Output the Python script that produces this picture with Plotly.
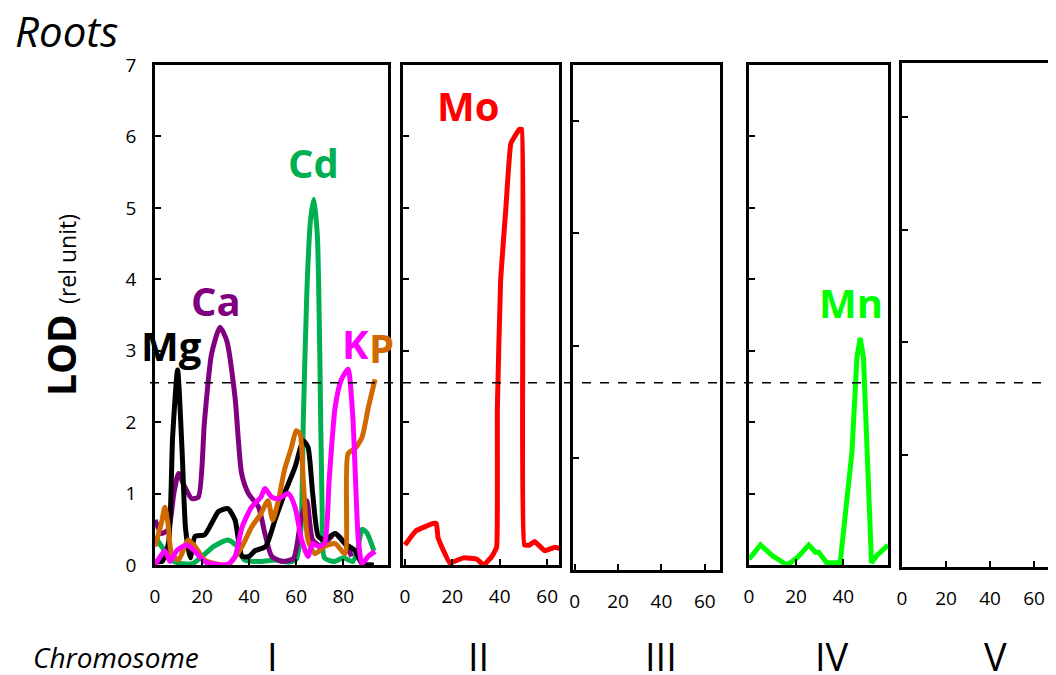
import plotly.graph_objects as go

# ---------------- data ----------------
# Chromosome I (cM, LOD)
mg_x = [0, 3, 5.7, 7.5, 9.6, 11.5, 13, 15, 17, 21, 24, 27, 31, 34, 37, 40, 42.5, 47, 51, 55, 59.5, 63, 65, 67, 69.4, 72, 76.5, 80.7, 85, 88, 93]
mg_y = [0.05, 0.05, 0.3, 1.8, 2.73, 1.6, 0.5, 0.1, 0.4, 0.42, 0.58, 0.75, 0.79, 0.63, 0.12, 0.12, 0.2, 0.26, 0.63, 1.0, 1.37, 1.74, 1.65, 1.0, 0.4, 0.35, 0.44, 0.3, 0.2, 0.02, 0.0]

ca_x = [0, 2.8, 5.7, 8, 10, 12.7, 15.6, 18.4, 21, 24, 27.6, 30.5, 34, 36.8, 39.7, 44, 46.7, 49.6, 54, 58.8, 62, 64.5, 67, 70.8, 76.5, 80.7, 83.6]
ca_y = [0.63, 0.44, 0.5, 1.0, 1.28, 1.09, 0.93, 0.95, 2.0, 2.95, 3.33, 3.14, 2.35, 1.28, 1.0, 0.81, 0.44, 0.12, 0.05, 0.09, 0.63, 0.9, 0.35, 0.26, 0.44, 0.3, 0.12]

cd_x = [0, 3, 7, 11, 16, 20, 25, 31, 35, 38, 45, 51, 57, 60, 62, 63, 64.5, 66, 67.5, 69, 70, 71, 72, 76, 80, 84, 86, 88, 90, 93]
cd_y = [0.4, 0.25, 0.07, 0.02, 0.02, 0.12, 0.26, 0.35, 0.26, 0.07, 0.05, 0.07, 0.04, 0.08, 0.5, 2.0, 3.8, 4.8, 5.12, 4.6, 3.0, 0.8, 0.1, 0.05, 0.1, 0.05, 0.2, 0.5, 0.45, 0.2]

k_x = [0, 4.2, 6.4, 9.2, 13.5, 17, 21, 25.5, 31, 34, 37, 41, 45, 46.7, 49.6, 52.4, 56.7, 59.5, 62.3, 65, 67, 69.4, 72, 74, 76.5, 79, 82, 84, 86.4, 88, 90.6, 93.5]
k_y = [0.0, 0.2, 0.05, 0.2, 0.28, 0.19, 0.05, 0.01, 0.01, 0.12, 0.53, 0.81, 0.95, 1.07, 0.95, 0.93, 1.0, 0.81, 0.35, 0.12, 0.3, 0.26, 0.3, 1.19, 2.2, 2.58, 2.74, 2.1, 0.35, 0.02, 0.12, 0.19]

p_x = [0, 2.8, 4.2, 5.7, 7, 10, 14, 17, 21, 25.5, 31, 37, 41, 45, 48, 50, 52.4, 55, 58, 60, 61.6, 63, 65, 68, 72, 76.5, 80.7, 82, 85, 88, 90.6, 93.5]
p_y = [0.26, 0.6, 0.81, 0.53, 0.16, 0.07, 0.35, 0.26, 0.07, 0.02, 0.0, 0.26, 0.53, 0.72, 0.9, 0.63, 0.9, 1.33, 1.65, 1.88, 1.84, 1.19, 0.35, 0.16, 0.26, 0.3, 0.16, 1.56, 1.63, 1.79, 2.2, 2.6]

# Chromosome II
mo_x = [0, 4.7, 11.9, 13.3, 14, 19, 24.7, 30.4, 33.3, 36.9, 38.7, 39, 40.4, 42.6, 44.7, 48.3, 49.3, 49.7, 50.4, 52.6, 54.7, 59, 63.3, 66]
mo_y = [0.28, 0.48, 0.58, 0.58, 0.38, 0.03, 0.1, 0.08, 0.0, 0.13, 0.25, 2.2, 4.0, 5.0, 5.9, 6.1, 6.1, 3.2, 0.28, 0.28, 0.33, 0.2, 0.25, 0.22]

# Chromosome IV
mn_x = [0, 4.9, 9.9, 16.2, 20.4, 25.4, 28.2, 29.6, 33, 38.7, 43.7, 45.8, 47.2, 48.6, 52, 54.2, 59]
mn_y = [0.08, 0.28, 0.13, 0.0, 0.1, 0.28, 0.18, 0.18, 0.03, 0.03, 1.58, 2.9, 3.18, 2.9, 0.03, 0.13, 0.28]

threshold = 2.55
chromosomes = ["I", "II", "III", "IV", "V"]
lod_ticks = [0, 1, 2, 3, 4, 5, 6, 7]

# ---------------- figure ----------------
W, H = 1056, 675
OFF = 8  # page body margin: figure is drawn 8px right/down in the window

def px(x):
    return (x - OFF) / W

def py(y):
    return 1 - (y - OFF) / H

FONT = "Open Sans"
fig = go.Figure()

def line(x, y, color, xa, ya, shape="spline", smoothing=0.6):
    fig.add_trace(go.Scatter(
        x=x, y=y, mode="lines", xaxis=xa, yaxis=ya,
        line=dict(color=color, width=5, shape=shape, smoothing=smoothing),
        showlegend=False, hoverinfo="skip"))

line(cd_x, cd_y, "#00B050", "x", "y")
line(ca_x, ca_y, "#800080", "x", "y")
line(mg_x, mg_y, "#000000", "x", "y")
line(p_x, p_y, "#D06A00", "x", "y")
line(k_x, k_y, "#FF00FF", "x", "y")
line(mo_x, mo_y, "#FF0000", "x2", "y2", smoothing=0.3)
line(mn_x, mn_y, "#00FF00", "x4", "y4", shape="linear")
# empty panels III and V (no QTL traces)
for xa, ya in (("x3", "y3"), ("x5", "y5")):
    fig.add_trace(go.Scatter(x=[None], y=[None], mode="lines", xaxis=xa, yaxis=ya,
                             showlegend=False, hoverinfo="skip"))

# panel geometry (window pixels): left, right, top, bottom
panels = [
    (155, 388, 65, 565, [0, 99], [0, 7]),
    (403, 559, 65, 565, [-0.8, 65], [0, 7]),
    (573, 720, 65, 570, [-0.8, 67], [0, 4.5]),
    (749, 888, 65, 565, [0, 59], [0, 7]),
    (902, 1064, 63, 567, [0, 73.6], [0, 4.48]),
]
xticks = [[0, 20, 40, 60, 80], [0, 20, 40, 60], [0, 20, 40, 60], [0, 20, 40], [0, 20, 40, 60]]

axcommon = dict(showline=True, linecolor="black", linewidth=2.5,
                ticks="inside", ticklen=6, tickwidth=2, tickcolor="black",
                showgrid=False, zeroline=False, fixedrange=True, automargin=False,
                mirror=True)

layout = {}
for i, (l, r, t, b, xr, yr) in enumerate(panels):
    n = "" if i == 0 else str(i + 1)
    layout["xaxis" + n] = dict(
        axcommon, domain=[max(0, px(l)), min(1, px(r))], range=xr, anchor="y" + n,
        tickvals=xticks[i], ticktext=[str(v) for v in xticks[i]],
        tickfont=dict(family=FONT, size=19, color="black"),
        ticklabelstandoff=12)
    layout["yaxis" + n] = dict(
        axcommon, domain=[py(b), py(t)], range=yr, anchor="x" + n,
        tickvals=lod_ticks if yr[1] == 7 else [0, 1, 2, 3, 4],
        showticklabels=(i == 0),
        tickfont=dict(family=FONT, size=19, color="black"),
        ticklabelstandoff=12)

fig.update_layout(**layout)

shapes = [
    # threshold dashed line across all panels
    dict(type="line", xref="paper", yref="y",
         x0=px(150), x1=1, y0=threshold, y1=threshold,
         line=dict(color="black", width=1.5, dash="dash")),
]
fig.update_layout(shapes=shapes)

ann = []
def lab(text, x, y, color, xref, yref, size=40):
    ann.append(dict(text="<b>" + text + "</b>", x=x, y=y, xref=xref, yref=yref,
                    showarrow=False, font=dict(family=FONT, size=size, color=color),
                    xanchor="center", yanchor="middle"))

lab("Mg", 7.0, 3.08, "#000000", "x", "y")
lab("Ca", 25.9, 3.71, "#800080", "x", "y")
lab("Cd", 67.5, 5.64, "#00B050", "x", "y")
lab("K", 85.4, 3.1, "#FF00FF", "x", "y")
lab("P", 96.3, 3.04, "#D06A00", "x", "y")
lab("Mo", 26.6, 6.44, "#FF0000", "x2", "y2")
lab("Mn", 43.4, 3.68, "#00FF00", "x4", "y4")

# title
ann.append(dict(text="<i>Roots</i>", x=px(13), y=py(30), xref="paper", yref="paper",
                xanchor="left", yanchor="middle", showarrow=False,
                font=dict(family=FONT, size=42, color="black")))
# y-axis title
ann.append(dict(text="<b>LOD</b> <span style='font-size:23px'>(rel unit)</span>",
                x=px(61), y=py(305), xref="paper", yref="paper", textangle=-90,
                xanchor="center", yanchor="middle", showarrow=False,
                font=dict(family=FONT, size=39, color="black")))
# chromosome labels
ann.append(dict(text="<i>Chromosome</i>", x=px(116), y=py(657), xref="paper", yref="paper",
                xanchor="center", yanchor="middle", showarrow=False,
                font=dict(family=FONT, size=28, color="black")))
chrom_x = [272, 478, 661, 832, 995]
for name, cx in zip(chromosomes, chrom_x):
    ann.append(dict(text=name, x=px(cx), y=py(656), xref="paper", yref="paper",
                    xanchor="center", yanchor="middle", showarrow=False,
                    font=dict(family=FONT, size=38, color="black")))

fig.update_layout(annotations=ann, width=W, height=H, template="none",
                  margin=dict(l=0, r=0, t=0, b=0, autoexpand=False),
                  paper_bgcolor="white", plot_bgcolor="white")

fig.write_html("out.html", config={"displayModeBar": False})
